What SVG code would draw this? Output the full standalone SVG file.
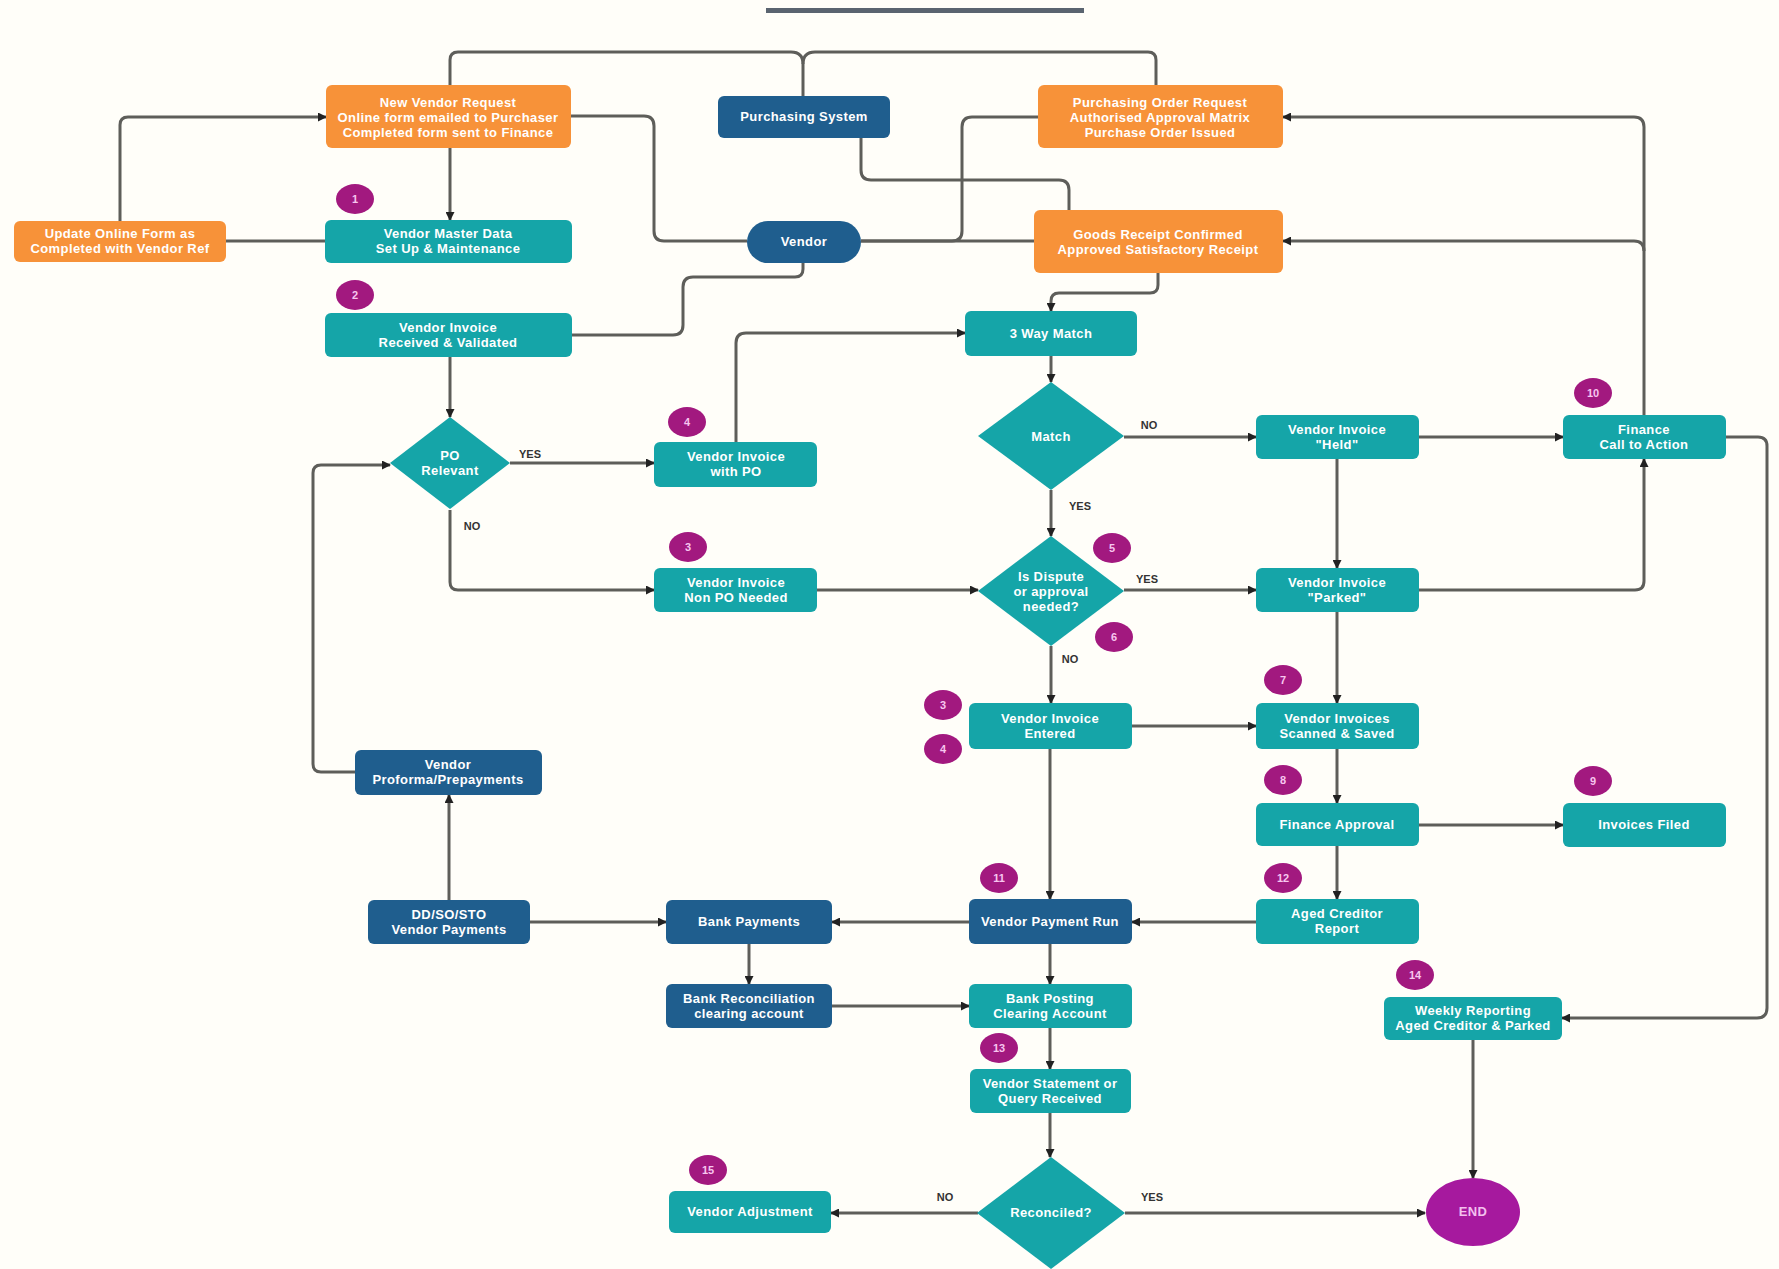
<svg xmlns="http://www.w3.org/2000/svg" width="1779" height="1269" viewBox="0 0 1779 1269">
<style>
.bg{fill:#fffef9}
.teal{fill:#15a5a8}
.orange{fill:#f79239}
.navy{fill:#1f5e8e}
.t{font-family:"Liberation Sans",Arial,sans-serif;font-size:13px;font-weight:bold;fill:#ffffff;text-anchor:middle;letter-spacing:0.4px}
.lbl{font-family:"Liberation Sans",Arial,sans-serif;font-size:11px;font-weight:bold;fill:#333333;text-anchor:middle}
.badge{fill:#a2197f}
.bt{font-family:"Liberation Sans",Arial,sans-serif;font-size:11px;font-weight:bold;fill:#f7c6ef;text-anchor:middle}
.c{fill:none;stroke:#5e5e5a;stroke-width:3}
.a{marker-end:url(#arr)}
</style>
<defs>
<marker id="arr" markerUnits="userSpaceOnUse" markerWidth="9" markerHeight="9" refX="8" refY="4.5" orient="auto">
<path d="M0,0 L9,4.5 L0,9 z" fill="#222222"/>
</marker>
</defs>
<rect class="bg" x="0" y="0" width="1779" height="1269"/>
<rect x="766" y="8" width="318" height="5" fill="#5a6470"/>

<g id="connectors">
<path class="c a" d="M120,221 V125 Q120,117 128,117 H326"/>
<path class="c" d="M325,241 H226"/>
<path class="c a" d="M450,148 V220"/>
<path class="c" d="M450,85 V60 Q450,52 458,52 H791 Q803,52 803,64 V96"/>
<path class="c" d="M1156,85 V60 Q1156,52 1148,52 H815 Q803,52 803,64"/>
<path class="c" d="M571,116 H644 Q654,116 654,126 V231 Q654,241 664,241 H747"/>
<path class="c" d="M861,241 H1034"/>
<path class="c" d="M861,241 H952 Q962,241 962,231 V127 Q962,117 972,117 H1039"/>
<path class="c" d="M861,138 V170 Q861,180 871,180 H1059 Q1069,180 1069,190 V210"/>
<path class="c" d="M803,263 V269 Q803,277 795,277 H693 Q683,277 683,287 V325 Q683,335 673,335 H572"/>
<path class="c a" d="M1158,273 V285 Q1158,293 1150,293 H1059 Q1051,293 1051,301 V311"/>
<path class="c a" d="M1051,356 V382"/>
<path class="c a" d="M450,357 V417"/>
<path class="c a" d="M510,463 H654"/>
<path class="c a" d="M450,510 V582 Q450,590 458,590 H654"/>
<path class="c a" d="M736,442 V343 Q736,333 746,333 H965"/>
<path class="c a" d="M817,590 H978"/>
<path class="c a" d="M1124,437 H1256"/>
<path class="c a" d="M1051,490 V536"/>
<path class="c a" d="M1124,590 H1256"/>
<path class="c a" d="M1337,459 V568"/>
<path class="c a" d="M1419,437 H1563"/>
<path class="c a" d="M1419,590 H1635 Q1644,590 1644,581 V459"/>
<path class="c a" d="M1644,415 V127 Q1644,117 1634,117 H1283"/>
<path class="c a" d="M1644,251 Q1644,241 1634,241 H1283"/>
<path class="c a" d="M1726,437 H1758 Q1767,437 1767,446 V1008 Q1767,1018 1757,1018 H1562"/>
<path class="c a" d="M1051,646 V703"/>
<path class="c a" d="M1337,612 V703"/>
<path class="c a" d="M1132,726 H1256"/>
<path class="c a" d="M1337,749 V803"/>
<path class="c a" d="M1419,825 H1563"/>
<path class="c a" d="M1337,846 V899"/>
<path class="c a" d="M1256,922 H1132"/>
<path class="c a" d="M1050,749 V899"/>
<path class="c a" d="M969,922 H832"/>
<path class="c a" d="M530,922 H666"/>
<path class="c a" d="M449,900 V795"/>
<path class="c a" d="M355,772 H321 Q313,772 313,764 V473 Q313,465 321,465 H390"/>
<path class="c a" d="M749,944 V984"/>
<path class="c a" d="M832,1006 H969"/>
<path class="c a" d="M1050,944 V984"/>
<path class="c a" d="M1050,1028 V1069"/>
<path class="c a" d="M1050,1113 V1157"/>
<path class="c a" d="M978,1213 H831"/>
<path class="c a" d="M1125,1213 H1425"/>
<path class="c a" d="M1473,1040 V1178"/>
<text class="lbl" x="530" y="458">YES</text>
<text class="lbl" x="472" y="530">NO</text>
<text class="lbl" x="1149" y="429">NO</text>
<text class="lbl" x="1080" y="510">YES</text>
<text class="lbl" x="1147" y="583">YES</text>
<text class="lbl" x="1070" y="663">NO</text>
<text class="lbl" x="945" y="1201">NO</text>
<text class="lbl" x="1152" y="1201">YES</text>
</g>

<g id="new-vendor-request"><rect class="orange" x="326" y="85" width="245" height="63" rx="6"/><text class="t" x="448" y="107">New Vendor Request</text><text class="t" x="448" y="122">Online form emailed to Purchaser</text><text class="t" x="448" y="137">Completed form sent to Finance</text></g>
<g id="purchasing-system"><rect class="navy" x="718" y="96" width="172" height="42" rx="6"/><text class="t" x="804" y="121">Purchasing System</text></g>
<g id="po-request"><rect class="orange" x="1038" y="85" width="245" height="63" rx="6"/><text class="t" x="1160" y="107">Purchasing Order Request</text><text class="t" x="1160" y="122">Authorised Approval Matrix</text><text class="t" x="1160" y="137">Purchase Order Issued</text></g>
<g id="update-online-form"><rect class="orange" x="14" y="221" width="212" height="41" rx="6"/><text class="t" x="120" y="238">Update Online Form as</text><text class="t" x="120" y="253">Completed with Vendor Ref</text></g>
<g id="vendor-master-data"><rect class="teal" x="325" y="220" width="247" height="43" rx="6"/><text class="t" x="448" y="238">Vendor Master Data</text><text class="t" x="448" y="253">Set Up &amp; Maintenance</text></g>
<g id="vendor"><rect class="navy" x="747" y="221" width="114" height="42" rx="21"/><text class="t" x="804" y="246">Vendor</text></g>
<g id="goods-receipt"><rect class="orange" x="1034" y="210" width="249" height="63" rx="6"/><text class="t" x="1158" y="239">Goods Receipt Confirmed</text><text class="t" x="1158" y="254">Approved Satisfactory Receipt</text></g>
<g id="invoice-received"><rect class="teal" x="325" y="313" width="247" height="44" rx="6"/><text class="t" x="448" y="332">Vendor Invoice</text><text class="t" x="448" y="347">Received &amp; Validated</text></g>
<g id="three-way-match"><rect class="teal" x="965" y="311" width="172" height="45" rx="6"/><text class="t" x="1051" y="338">3 Way Match</text></g>
<g id="po-relevant"><polygon class="teal" points="450,417 510,463 450,509 390,463"/><text class="t" x="450" y="460">PO</text><text class="t" x="450" y="475">Relevant</text></g>
<g id="invoice-with-po"><rect class="teal" x="654" y="442" width="163" height="45" rx="6"/><text class="t" x="736" y="461">Vendor Invoice</text><text class="t" x="736" y="476">with PO</text></g>
<g id="invoice-non-po"><rect class="teal" x="654" y="568" width="163" height="44" rx="6"/><text class="t" x="736" y="587">Vendor Invoice</text><text class="t" x="736" y="602">Non PO Needed</text></g>
<g id="match"><polygon class="teal" points="1051,382 1124,436 1051,490 978,436"/><text class="t" x="1051" y="441">Match</text></g>
<g id="dispute"><polygon class="teal" points="1051,536 1124,591 1051,646 978,591"/><text class="t" x="1051" y="581">Is Dispute</text><text class="t" x="1051" y="596">or approval</text><text class="t" x="1051" y="611">needed?</text></g>
<g id="invoice-held"><rect class="teal" x="1256" y="415" width="163" height="44" rx="6"/><text class="t" x="1337" y="434">Vendor Invoice</text><text class="t" x="1337" y="449">"Held"</text></g>
<g id="invoice-parked"><rect class="teal" x="1256" y="568" width="163" height="44" rx="6"/><text class="t" x="1337" y="587">Vendor Invoice</text><text class="t" x="1337" y="602">"Parked"</text></g>
<g id="finance-call"><rect class="teal" x="1563" y="415" width="163" height="44" rx="6"/><text class="t" x="1644" y="434">Finance</text><text class="t" x="1644" y="449">Call to Action</text></g>
<g id="invoice-entered"><rect class="teal" x="969" y="703" width="163" height="46" rx="6"/><text class="t" x="1050" y="723">Vendor Invoice</text><text class="t" x="1050" y="738">Entered</text></g>
<g id="invoices-scanned"><rect class="teal" x="1256" y="703" width="163" height="46" rx="6"/><text class="t" x="1337" y="723">Vendor Invoices</text><text class="t" x="1337" y="738">Scanned &amp; Saved</text></g>
<g id="finance-approval"><rect class="teal" x="1256" y="803" width="163" height="43" rx="6"/><text class="t" x="1337" y="829">Finance Approval</text></g>
<g id="invoices-filed"><rect class="teal" x="1563" y="803" width="163" height="44" rx="6"/><text class="t" x="1644" y="829">Invoices Filed</text></g>
<g id="proforma"><rect class="navy" x="355" y="750" width="187" height="45" rx="6"/><text class="t" x="448" y="769">Vendor</text><text class="t" x="448" y="784">Proforma/Prepayments</text></g>
<g id="dd-payments"><rect class="navy" x="368" y="900" width="162" height="44" rx="6"/><text class="t" x="449" y="919">DD/SO/STO</text><text class="t" x="449" y="934">Vendor Payments</text></g>
<g id="bank-payments"><rect class="navy" x="666" y="900" width="166" height="44" rx="6"/><text class="t" x="749" y="926">Bank Payments</text></g>
<g id="payment-run"><rect class="navy" x="969" y="899" width="163" height="45" rx="6"/><text class="t" x="1050" y="926">Vendor Payment Run</text></g>
<g id="aged-creditor"><rect class="teal" x="1256" y="899" width="163" height="45" rx="6"/><text class="t" x="1337" y="918">Aged Creditor</text><text class="t" x="1337" y="933">Report</text></g>
<g id="bank-recon"><rect class="navy" x="666" y="984" width="166" height="44" rx="6"/><text class="t" x="749" y="1003">Bank Reconciliation</text><text class="t" x="749" y="1018">clearing account</text></g>
<g id="bank-posting"><rect class="teal" x="969" y="984" width="163" height="44" rx="6"/><text class="t" x="1050" y="1003">Bank Posting</text><text class="t" x="1050" y="1018">Clearing Account</text></g>
<g id="weekly-reporting"><rect class="teal" x="1384" y="997" width="178" height="43" rx="6"/><text class="t" x="1473" y="1015">Weekly Reporting</text><text class="t" x="1473" y="1030">Aged Creditor &amp; Parked</text></g>
<g id="vendor-statement"><rect class="teal" x="970" y="1069" width="161" height="44" rx="6"/><text class="t" x="1050" y="1088">Vendor Statement or</text><text class="t" x="1050" y="1103">Query Received</text></g>
<g id="reconciled"><polygon class="teal" points="1051,1157 1125,1213 1051,1269 977,1213"/><text class="t" x="1051" y="1217">Reconciled?</text></g>
<g id="vendor-adjustment"><rect class="teal" x="669" y="1191" width="162" height="42" rx="6"/><text class="t" x="750" y="1216">Vendor Adjustment</text></g>
<g id="end"><ellipse cx="1473" cy="1212" rx="47" ry="34" fill="#a6199e"/><text class="t" x="1473" y="1216" style="fill:#f3c0ee">END</text></g>

<g id="badges">
<g id="b1"><ellipse class="badge" cx="355" cy="199" rx="19" ry="15"/><text class="bt" x="355" y="203">1</text></g>
<g id="b2"><ellipse class="badge" cx="355" cy="295" rx="19" ry="15"/><text class="bt" x="355" y="299">2</text></g>
<g id="b4a"><ellipse class="badge" cx="687" cy="422" rx="19" ry="15"/><text class="bt" x="687" y="426">4</text></g>
<g id="b3a"><ellipse class="badge" cx="688" cy="547" rx="19" ry="15"/><text class="bt" x="688" y="551">3</text></g>
<g id="b5"><ellipse class="badge" cx="1112" cy="548" rx="19" ry="15"/><text class="bt" x="1112" y="552">5</text></g>
<g id="b6"><ellipse class="badge" cx="1114" cy="637" rx="19" ry="15"/><text class="bt" x="1114" y="641">6</text></g>
<g id="b10"><ellipse class="badge" cx="1593" cy="393" rx="19" ry="15"/><text class="bt" x="1593" y="397">10</text></g>
<g id="b7"><ellipse class="badge" cx="1283" cy="680" rx="19" ry="15"/><text class="bt" x="1283" y="684">7</text></g>
<g id="b3b"><ellipse class="badge" cx="943" cy="705" rx="19" ry="15"/><text class="bt" x="943" y="709">3</text></g>
<g id="b4b"><ellipse class="badge" cx="943" cy="749" rx="19" ry="15"/><text class="bt" x="943" y="753">4</text></g>
<g id="b8"><ellipse class="badge" cx="1283" cy="780" rx="19" ry="15"/><text class="bt" x="1283" y="784">8</text></g>
<g id="b9"><ellipse class="badge" cx="1593" cy="781" rx="19" ry="15"/><text class="bt" x="1593" y="785">9</text></g>
<g id="b11"><ellipse class="badge" cx="999" cy="878" rx="19" ry="15"/><text class="bt" x="999" y="882">11</text></g>
<g id="b12"><ellipse class="badge" cx="1283" cy="878" rx="19" ry="15"/><text class="bt" x="1283" y="882">12</text></g>
<g id="b14"><ellipse class="badge" cx="1415" cy="975" rx="19" ry="15"/><text class="bt" x="1415" y="979">14</text></g>
<g id="b13"><ellipse class="badge" cx="999" cy="1048" rx="19" ry="15"/><text class="bt" x="999" y="1052">13</text></g>
<g id="b15"><ellipse class="badge" cx="708" cy="1170" rx="19" ry="15"/><text class="bt" x="708" y="1174">15</text></g>
</g>
</svg>
